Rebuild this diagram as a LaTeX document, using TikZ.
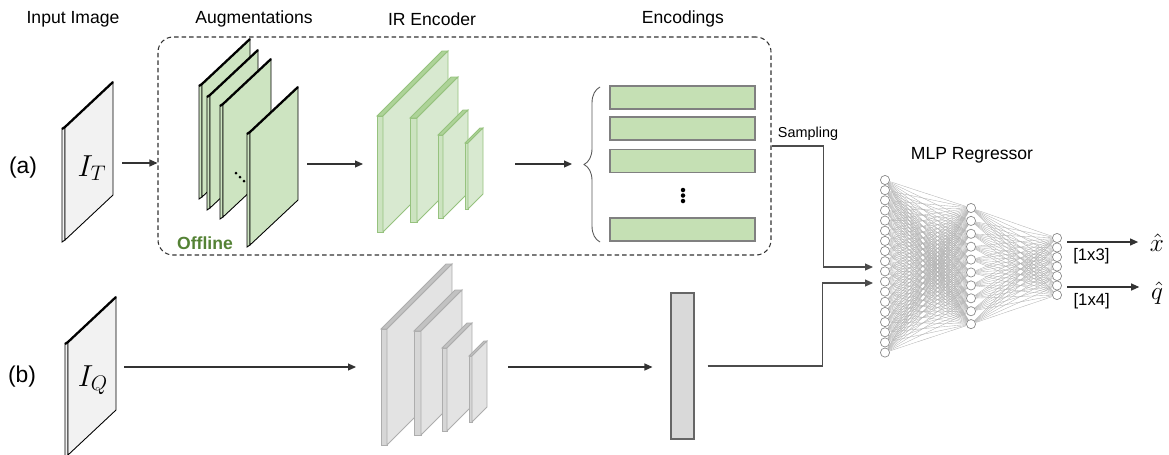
\documentclass[tikz,border=0pt]{standalone}
\usepackage{fontspec}
\setmainfont{Liberation Sans}
\usetikzlibrary{arrows.meta,fit,decorations.pathreplacing}

\definecolor{imgfill}{HTML}{F2F2F2}
\definecolor{augfill}{HTML}{CDE4C1}
\definecolor{encline}{HTML}{96C27E}
\definecolor{encfront}{HTML}{D8E9D0}
\definecolor{encside}{HTML}{CCE3C0}
\definecolor{enctop}{HTML}{ADD398}
\definecolor{codefill}{HTML}{C5E0B4}
\definecolor{offgreen}{HTML}{548235}

\tikzset{
	arr/.style={draw=black!80, line width=0.6pt, -{Triangle[length=0.16cm,width=0.14cm]}},
	title/.style={font=\fontsize{10}{12}\selectfont},
	rowlbl/.style={font=\fontsize{13}{15}\selectfont},
	hold/.style={inner sep=0pt, outer sep=0pt},
	offbox/.style={draw=black!80, line width=0.6pt, dash pattern=on 0.09cm off 0.06cm, rounded corners=0.3cm, inner sep=0pt},
	encs/.style={fill=encside, draw=encline, line width=0.5pt},
	enct/.style={fill=enctop, draw=encline, line width=0.5pt},
	encf/.style={fill=encfront, draw=encline, line width=0.5pt},
	codebar/.style={draw=black!50, fill=codefill, line width=0.6pt, minimum width=2.9cm, minimum height=0.46cm, inner sep=0pt},
	vecbar/.style={draw=black!60, fill=black!15, line width=0.6pt, inner sep=0pt},
	neuron/.style={circle, draw=black!45, fill=white, line width=0.4pt, minimum size=0.184cm, inner sep=0pt},
	link/.style={draw=black!30, line width=0.2pt},
	dimlbl/.style={font=\fontsize{9.5}{11}\selectfont},
	outsym/.style={font=\fontsize{14.5}{16}\selectfont, inner sep=0.03cm},
	imgsym/.style={font=\fontsize{17}{19}\selectfont},
}

\begin{document}
\begin{tikzpicture}[x=0.02cm, y=-0.02cm]
	\useasboundingbox (0,0) rectangle (1169,454);

	% titles
	\node[title] (tIn) at (73,19) {Input Image};
	\node[title] (tAug) at (254,19) {Augmentations};
	\node[title] (tEnc) at (432,19) {IR Encoder};
	\node[title] (tCode) at (683,19) {Encodings};
	\node[title] (tMlp) at (972,155) {MLP Regressor};

	\node[rowlbl] (la) at (23,168) {(a)};
	\node[rowlbl] (lb) at (22,377) {(b)};

	% input images and augmentations
	\foreach \x/\y/\c in {65/240/imgfill, 68/455/imgfill, 202/197/augfill, 210/208/augfill, 223/217/augfill, 250/245/augfill}{
			\filldraw[fill=\c, line width=0.5pt] (\x-3,\y-111) -- (\x,\y-113) -- (\x,\y) -- (\x-3,\y+2) -- cycle;
			\filldraw[fill=\c, line width=0.5pt] (\x,\y) -- (\x,\y-113) -- (\x+48,\y-158) -- (\x+48,\y-45) -- cycle;
			\draw[line width=1.3pt] (\x-3,\y-111) -- (\x,\y-113) -- (\x+48,\y-158);
		}
	\foreach \k in {0, 1, 2}{
			\fill (236+4*\k, 173+4*\k) circle (0.03cm);
		}

	\node[imgsym] (symT) at (92,168) {$I_T$};
	\node[imgsym] (symQ) at (93,380) {$I_Q$};

	% green encoder
	\foreach \xl/\w/\yt/\yb/\d in {377/6/116/232/65, 410/7/118/222/41, 438/5/135/218/25, 465/3/143/209/15}{
			\filldraw[encs] (\xl,\yt) rectangle (\xl+\w,\yb);
			\filldraw[enct] (\xl,\yt) -- (\xl+\d,\yt-\d) -- (\xl+\w+\d,\yt-\d) -- (\xl+\w,\yt) -- cycle;
			\filldraw[encf] (\xl+\w,\yt) -- (\xl+\w+\d,\yt-\d) -- (\xl+\w+\d,\yb-\d) -- (\xl+\w,\yb) -- cycle;
		}

	% gray encoder
	\begin{scope}[shift={(4,213)},
			encs/.style={fill=black!16, draw=black!32, line width=0.5pt},
			enct/.style={fill=black!24, draw=black!32, line width=0.5pt},
			encf/.style={fill=black!11, draw=black!32, line width=0.5pt}]
		\foreach \xl/\w/\yt/\yb/\d in {377/6/116/232/65, 410/7/118/222/41, 438/5/135/218/25, 465/3/143/209/15}{
				\filldraw[encs] (\xl,\yt) rectangle (\xl+\w,\yb);
				\filldraw[enct] (\xl,\yt) -- (\xl+\d,\yt-\d) -- (\xl+\w+\d,\yt-\d) -- (\xl+\w,\yt) -- cycle;
				\filldraw[encf] (\xl+\w,\yt) -- (\xl+\w+\d,\yt-\d) -- (\xl+\w+\d,\yb-\d) -- (\xl+\w,\yb) -- cycle;
			}
	\end{scope}

	% encodings
	\node[codebar] (code1) at (682.5,97.5) {};
	\node[codebar] (code2) at (682.5,128.5) {};
	\node[codebar] (code3) at (682.5,161) {};
	\node[codebar] (code4) at (682.5,229.5) {};
	\foreach \k in {0, 1, 2}{
			\fill (683, 190+5.5*\k) circle (0.045cm);
		}
	\draw[draw=black!65, line width=0.5pt, decorate, decoration={brace, amplitude=0.32cm}] (600,242) -- (600,87);

	% frames for the connectors
	\node[offbox, fit={(158,37)(771,255)}] (offline) {};
	\node[font=\bfseries\fontsize{10}{12}\selectfont, text=offgreen] (offlbl) at (205,243) {Offline};
	\node[hold, fit={(65,86)(122,240)}] (imgT) {};
	\node[hold, fit={(200,83)(307,245)}] (aug) {};
	\node[hold, fit={(363,52)(515,276)}] (enc) {};
	\node[hold, fit={(572,87)(760,241)}] (codes) {};
	\node[hold, fit={(68,296)(124,438)}] (imgQ) {};
	\node[hold, fit={(356,296)(508,438)}] (encQ) {};
	\node[vecbar, fit={(671,293)(694,439)}] (vecQ) {};

	\draw[arr] (imgT.east) -- (imgT.east -| offline.west);
	\draw[arr] (aug.east) -- (enc.west);
	\draw[arr] (enc.east) -- (codes.west);
	\draw[arr] (imgQ.east) -- (encQ.west);
	\draw[arr, shorten >=0.36cm] (encQ.east) -- (encQ.east -| vecQ.west);

	% MLP
	\foreach \i in {1,...,18}{
			\node[neuron] (a\i) at (885,{180+(\i-1)*10.15}) {};
		}
	\foreach \i in {1,...,10}{
			\node[neuron] (b\i) at (971,{208+(\i-1)*12.9}) {};
		}
	\foreach \i in {1,...,7}{
			\node[neuron] (c\i) at (1057,{238+(\i-1)*9.5}) {};
		}
	\foreach \i in {1,...,18}{
			\foreach \j in {1,...,10}{
					\draw[link] (a\i) -- (b\j);
				}
		}
	\foreach \i in {1,...,10}{
			\foreach \j in {1,...,7}{
					\draw[link] (b\i) -- (c\j);
				}
		}

	\coordinate (inA) at (873,267);
	\coordinate (inB) at (873,283);
	\node[font=\fontsize{8.2}{10}\selectfont] (smp) at (808,134) {Sampling};
	\draw[arr, draw=black!70] (offline.east) -- ++(52,0) |- (inA);
	\draw[arr, draw=black!70, shorten <=0.26cm] (vecQ.east) -- ++(128,0) |- (inB);

	% outputs
	\coordinate (oX) at (1067,242);
	\coordinate (oQ) at (1067,287);
	\node[outsym] (xhat) at (1157,243) {$\hat{x}$};
	\node[outsym] (qhat) at (1157,293) {$\hat{q}$};
	\draw[arr, shorten >=0.2cm] (oX) -- (oX -| xhat.west) node[dimlbl, below, pos=0.3] {[1x3]};
	\draw[arr, shorten >=0.2cm] (oQ) -- (oQ -| qhat.west) node[dimlbl, below, pos=0.3] {[1x4]};
\end{tikzpicture}
\end{document}
